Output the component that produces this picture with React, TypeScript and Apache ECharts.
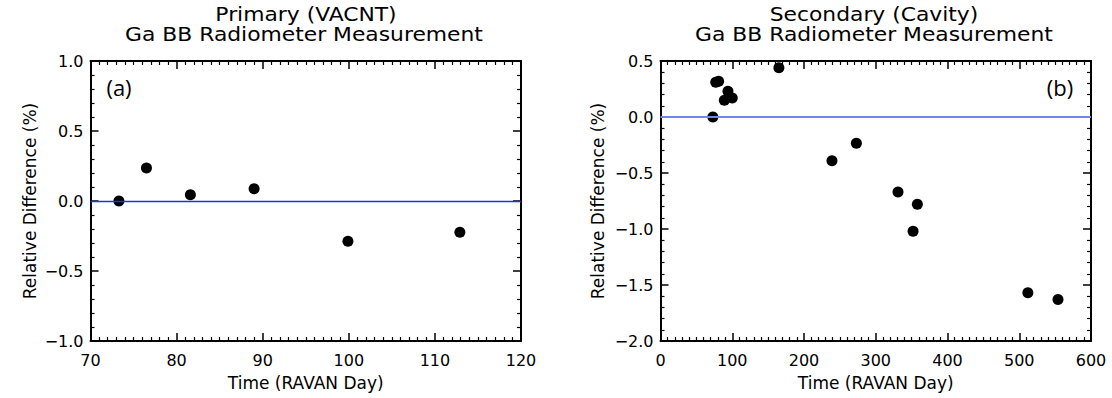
import React, { useEffect, useRef } from "react";
import * as echarts from "echarts";

// Panel (a): Primary (VACNT)
const primaryDays = [73.3, 76.5, 81.6, 89.0, 99.9, 112.9];
const primaryDiff = [0.0, 0.235, 0.045, 0.087, -0.288, -0.224];

// Panel (b): Secondary (Cavity)
const secondaryDays = [73, 77, 81, 89, 94, 100, 165, 239, 273, 331, 358, 352, 512, 554];
const secondaryDiff = [0.0, 0.31, 0.32, 0.15, 0.23, 0.17, 0.44, -0.39, -0.235, -0.67, -0.78, -1.02, -1.57, -1.63];

const titlesA = ["Primary (VACNT)", "Ga BB Radiometer Measurement"];
const titlesB = ["Secondary (Cavity)", "Ga BB Radiometer Measurement"];
const xName = "Time (RAVAN Day)";
const yName = "Relative Difference (%)";

const FONT = "DejaVu Sans";

const fmtY = (v: number) => (v < 0 ? "\u2212" : "") + Math.abs(v).toFixed(1);

function makeX(gridIndex: number, min: number, max: number, interval: number, pos: "bottom" | "top") {
  return {
    type: "value",
    gridIndex,
    position: pos,
    min,
    max,
    interval,
    name: pos === "bottom" ? xName : "",
    nameLocation: "middle",
    nameGap: 33,
    nameTextStyle: { fontFamily: FONT, fontSize: 17, color: "#000" },
    axisLine: { show: true, onZero: false, lineStyle: { color: "#000", width: 2 } },
    axisTick: { show: true, inside: true, length: 8, lineStyle: { color: "#000", width: 1.5 } },
    minorTick: { show: true, splitNumber: 10, length: 4, lineStyle: { color: "#000", width: 1.2 } },
    axisLabel: {
      show: pos === "bottom",
      margin: 11,
      fontFamily: FONT,
      fontSize: 16,
      color: "#000",
    },
    splitLine: { show: false },
  };
}

function makeY(gridIndex: number, min: number, max: number, interval: number, pos: "left" | "right", gap: number) {
  return {
    type: "value",
    gridIndex,
    position: pos,
    min,
    max,
    interval,
    name: pos === "left" ? yName : "",
    nameLocation: "middle",
    nameGap: gap,
    nameTextStyle: { fontFamily: FONT, fontSize: 17, color: "#000" },
    axisLine: { show: true, onZero: false, lineStyle: { color: "#000", width: 2 } },
    axisTick: { show: true, inside: true, length: 8, lineStyle: { color: "#000", width: 1.5 } },
    minorTick: { show: true, splitNumber: 5, length: 4, lineStyle: { color: "#000", width: 1.2 } },
    axisLabel: {
      show: pos === "left",
      margin: 7,
      fontFamily: FONT,
      fontSize: 16,
      color: "#000",
      formatter: fmtY,
    },
    splitLine: { show: false },
  };
}

export default function App() {
  const ref = useRef<HTMLDivElement>(null);

  useEffect(() => {
    if (!ref.current) return;
    const chart = echarts.init(ref.current, null, { renderer: "svg" });

    const titleLine = (text: string, x: number, y: number) => ({
      type: "text",
      x,
      y,
      scaleX: 1.12,
      style: {
        text,
        fontFamily: FONT,
        fontSize: 19.5,
        fill: "#000",
        align: "center",
        verticalAlign: "middle",
      },
    });

    chart.setOption({
      animation: false,
      backgroundColor: "#fff",
      grid: [
        { left: 90.5, top: 61, width: 430.5, height: 280 },
        { left: 660.5, top: 61, width: 430.5, height: 280 },
      ],
      xAxis: [
        makeX(0, 70, 120, 10, "bottom"),
        makeX(0, 70, 120, 10, "top"),
        makeX(1, 0, 600, 100, "bottom"),
        makeX(1, 0, 600, 100, "top"),
      ],
      yAxis: [
        makeY(0, -1, 1, 0.5, "left", 52),
        makeY(0, -1, 1, 0.5, "right", 0),
        makeY(1, -2, 0.5, 0.5, "left", 54),
        makeY(1, -2, 0.5, 0.5, "right", 0),
      ],
      graphic: [
        titleLine(titlesA[0], 306, 14),
        titleLine(titlesA[1], 304, 34),
        titleLine(titlesB[0], 874, 14),
        titleLine(titlesB[1], 874, 34),
        {
          type: "text",
          x: 119,
          y: 87,
          style: { text: "(a)", fontFamily: "Open Sans", fontSize: 22, fill: "#000", align: "center", verticalAlign: "middle" },
        },
        {
          type: "text",
          x: 1060,
          y: 87,
          style: { text: "(b)", fontFamily: "Open Sans", fontSize: 22, fill: "#000", align: "center", verticalAlign: "middle" },
        },
      ],
      series: [
        {
          type: "line",
          xAxisIndex: 0,
          yAxisIndex: 0,
          data: [],
          z: 1,
          markLine: {
            silent: true,
            symbol: "none",
            label: { show: false },
            lineStyle: { color: "#1437e0", width: 1.3, type: "solid" },
            data: [{ yAxis: 0 }],
          },
        },
        {
          type: "line",
          xAxisIndex: 2,
          yAxisIndex: 2,
          data: [],
          z: 1,
          markLine: {
            silent: true,
            symbol: "none",
            label: { show: false },
            lineStyle: { color: "#7088ee", width: 2, type: "solid" },
            data: [{ yAxis: 0 }],
          },
        },
        {
          type: "scatter",
          xAxisIndex: 0,
          yAxisIndex: 0,
          symbolSize: 11,
          itemStyle: { color: "#000", opacity: 1 },
          z: 3,
          data: primaryDays.map((d, i) => [d, primaryDiff[i]]),
        },
        {
          type: "scatter",
          xAxisIndex: 2,
          yAxisIndex: 2,
          symbolSize: 11,
          itemStyle: { color: "#000", opacity: 1 },
          z: 3,
          data: secondaryDays.map((d, i) => [d, secondaryDiff[i]]),
        },
      ],
    });

    return () => chart.dispose();
  }, []);

  return (
    <div
      ref={ref}
      style={{ position: "fixed", left: 0, top: 0, width: 1112, height: 398, background: "#fff" }}
    />
  );
}
